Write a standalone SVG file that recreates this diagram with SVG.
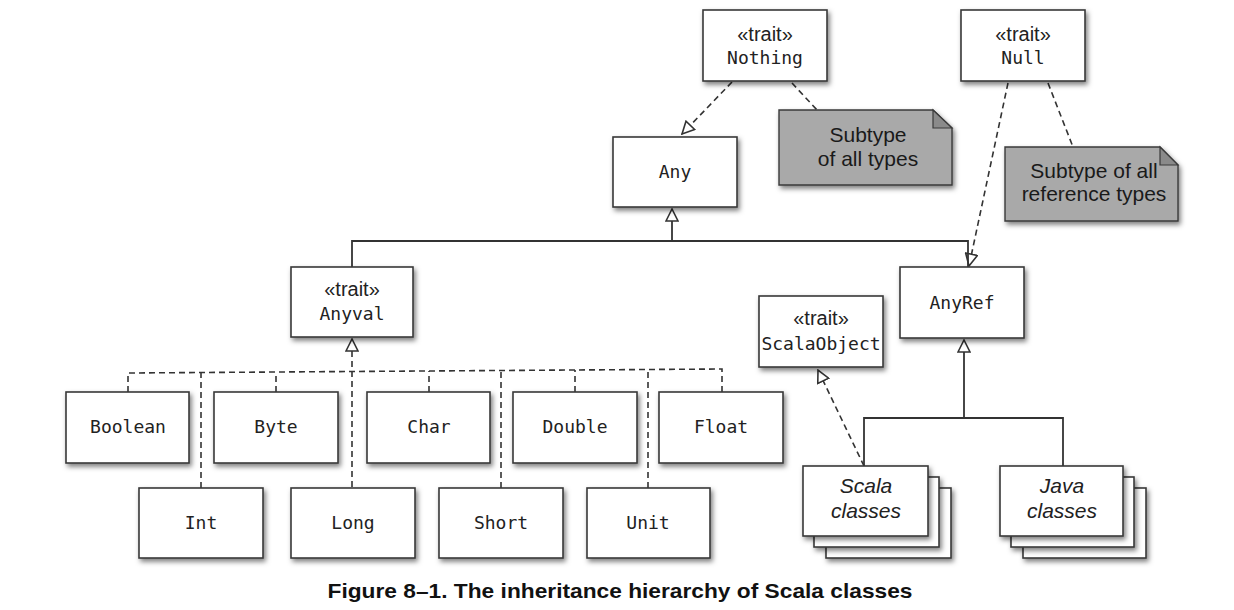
<svg xmlns="http://www.w3.org/2000/svg" width="1234" height="610" viewBox="0 0 1234 610">
  <style>
    .box { fill: #ffffff; stroke: #3a3a3a; stroke-width: 1.6; filter: url(#shadow); }
    .note { fill: #a9a9a9; stroke: #3a3a3a; stroke-width: 1.4; filter: url(#shadow); }
    .fold { fill: #8a8a8a; stroke: #3a3a3a; stroke-width: 1.2; }
    .name { font-family: "DejaVu Sans Mono", "Liberation Mono", monospace; font-size: 18px; fill: #222; text-anchor: middle; }
    .stereo { font-family: "Liberation Sans", Arial, sans-serif; font-size: 20px; fill: #222; text-anchor: middle; }
    .notetext { font-family: "Liberation Sans", Arial, sans-serif; font-size: 21px; fill: #1a1a1a; text-anchor: middle; }
    .ital { font-family: "Liberation Sans", Arial, sans-serif; font-size: 21px; font-style: italic; fill: #222; text-anchor: middle; }
    .solid { fill: none; stroke: #333; stroke-width: 1.8; }
    .dash { fill: none; stroke: #333; stroke-width: 1.6; stroke-dasharray: 6 4; }
    .caption { font-family: "Liberation Sans", Arial, sans-serif; font-size: 21px; font-weight: bold; fill: #111; text-anchor: middle; }
  </style>
  <defs>
    <filter id="shadow" x="-10%" y="-10%" width="130%" height="140%">
      <feDropShadow dx="2" dy="3" stdDeviation="2.5" flood-color="#000" flood-opacity="0.5"/>
    </filter>
    <!-- hollow generalization arrowhead -->
    <marker id="tri" markerUnits="userSpaceOnUse" markerWidth="14" markerHeight="14" refX="12" refY="6" orient="auto" viewBox="-1 -1 14 14">
      <path d="M0,0 L12,6 L0,12 Z" fill="#fff" stroke="#333" stroke-width="1.6" stroke-dasharray="none"/>
    </marker>
  </defs>

  <!-- connectors -->
  <g id="connectors">
    <path class="dash" d="M732,82 L682,134" marker-end="url(#tri)"/>
    <path class="dash" d="M792,83 L817,110"/>
    <path class="dash" d="M1008,83 L969,266" marker-end="url(#tri)"/>
    <path class="dash" d="M1048,83 L1073,147"/>

    <path class="solid" d="M352,267 V241 H968 V267"/>
    <path class="solid" d="M672,241 V209" marker-end="url(#tri)"/>

    <path class="dash" d="M352,487 V339" marker-end="url(#tri)"/>
    <path class="dash" d="M128,392 V373 L722,369 V392"/>
    <path class="dash" d="M276,392 V372"/>
    <path class="dash" d="M429,392 V371"/>
    <path class="dash" d="M575,392 V370"/>
    <path class="dash" d="M201,488 V373"/>
    <path class="dash" d="M501,488 V371"/>
    <path class="dash" d="M648,488 V370"/>

    <path class="solid" d="M964,418 V340" marker-end="url(#tri)"/>
    <path class="solid" d="M864,466 V418 H1063 V466"/>
    <path class="dash" d="M864,466 L818,370" marker-end="url(#tri)"/>
  </g>

  <g id="nothing">
    <rect class="box" x="703" y="10" width="124" height="71"/>
    <text class="stereo" x="765" y="41">«trait»</text>
    <text class="name" x="765" y="64">Nothing</text>
  </g>
  <g id="null">
    <rect class="box" x="961" y="10" width="124" height="71"/>
    <text class="stereo" x="1023" y="41">«trait»</text>
    <text class="name" x="1023" y="64">Null</text>
  </g>
  <g id="note-nothing">
    <path class="note" d="M779,110 H933 L952,128 V185 H779 Z"/>
    <path class="fold" d="M933,110 L952,128 H933 Z"/>
    <text class="notetext" x="868" y="142">Subtype</text>
    <text class="notetext" x="868" y="166">of all types</text>
  </g>
  <g id="note-null">
    <path class="note" d="M1005,147 H1160 L1178,165 V221 H1005 Z"/>
    <path class="fold" d="M1160,147 L1178,165 H1160 Z"/>
    <text class="notetext" x="1094" y="178">Subtype of all</text>
    <text class="notetext" x="1094" y="201">reference types</text>
  </g>
  <g id="any">
    <rect class="box" x="613" y="137" width="124" height="70"/>
    <text class="name" x="675" y="178">Any</text>
  </g>
  <g id="anyval">
    <rect class="box" x="291" y="267" width="122" height="70"/>
    <text class="stereo" x="352" y="296">«trait»</text>
    <text class="name" x="352" y="320">Anyval</text>
  </g>
  <g id="anyref">
    <rect class="box" x="900" y="267" width="124" height="71"/>
    <text class="name" x="962" y="309">AnyRef</text>
  </g>
  <g id="scalaobject">
    <rect class="box" x="759" y="296" width="124" height="71"/>
    <text class="stereo" x="821" y="325">«trait»</text>
    <text class="name" x="821" y="350">ScalaObject</text>
  </g>

  <g id="boolean">
    <rect class="box" x="66" y="392" width="123" height="71"/>
    <text class="name" x="128" y="433">Boolean</text>
  </g>
  <g id="byte">
    <rect class="box" x="214" y="392" width="124" height="71"/>
    <text class="name" x="276" y="433">Byte</text>
  </g>
  <g id="char">
    <rect class="box" x="367" y="392" width="123" height="71"/>
    <text class="name" x="429" y="433">Char</text>
  </g>
  <g id="double">
    <rect class="box" x="513" y="392" width="124" height="71"/>
    <text class="name" x="575" y="433">Double</text>
  </g>
  <g id="float">
    <rect class="box" x="659" y="392" width="124" height="71"/>
    <text class="name" x="721" y="433">Float</text>
  </g>

  <g id="int">
    <rect class="box" x="139" y="488" width="124" height="70"/>
    <text class="name" x="201" y="529">Int</text>
  </g>
  <g id="long">
    <rect class="box" x="291" y="488" width="124" height="70"/>
    <text class="name" x="353" y="529">Long</text>
  </g>
  <g id="short">
    <rect class="box" x="439" y="488" width="124" height="70"/>
    <text class="name" x="501" y="529">Short</text>
  </g>
  <g id="unit">
    <rect class="box" x="587" y="488" width="123" height="70"/>
    <text class="name" x="648" y="529">Unit</text>
  </g>

  <g id="scala-classes">
    <rect class="box" x="826" y="488" width="125" height="70"/>
    <rect class="box" x="814" y="477" width="125" height="70"/>
    <rect class="box" x="803" y="466" width="125" height="70"/>
    <text class="ital" x="866" y="493">Scala</text>
    <text class="ital" x="866" y="518">classes</text>
  </g>
  <g id="java-classes">
    <rect class="box" x="1023" y="488" width="123" height="70"/>
    <rect class="box" x="1011" y="477" width="123" height="70"/>
    <rect class="box" x="1000" y="466" width="123" height="70"/>
    <text class="ital" x="1062" y="493">Java</text>
    <text class="ital" x="1062" y="518">classes</text>
  </g>

  <text class="caption" x="620" y="598" textLength="585" lengthAdjust="spacingAndGlyphs">Figure 8–1. The inheritance hierarchy of Scala classes</text>
</svg>
